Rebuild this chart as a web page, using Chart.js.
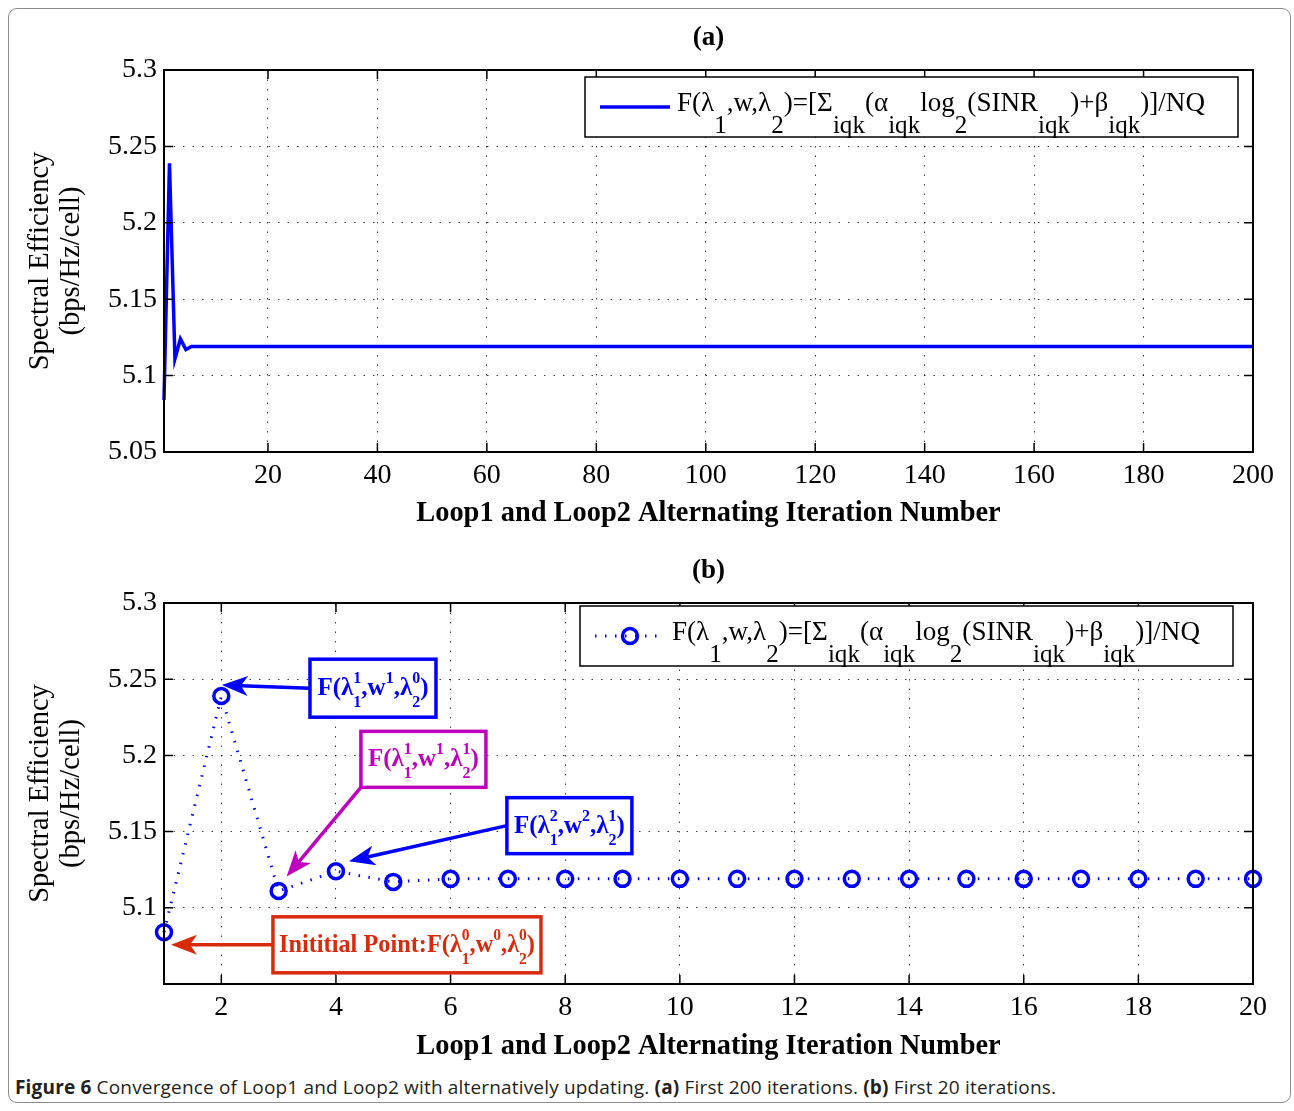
<!DOCTYPE html>
<html>
<head>
<meta charset="utf-8">
<script src="https://cdn.jsdelivr.net/npm/chart.js@4.4.1/dist/chart.umd.min.js"></script>
<style>
  html, body { margin: 0; padding: 0; background: #fff; }
  #page { position: relative; width: 1294px; height: 1111px; overflow: hidden; }
  #frame { position: absolute; left: 8px; top: 8px; width: 1283px; height: 1095px;
           border: 1px solid #8c8c8c; border-radius: 9px; box-sizing: border-box; }
  canvas { position: absolute; left: 0; }
  #chartA { top: 0; }
  #chartB { top: 540px; }
  #caption { position: absolute; left: 15px; top: 1074px; font-family: "Open Sans", "Noto Sans", sans-serif;
             font-size: 19px; color: #231f20; white-space: nowrap; letter-spacing: 0.17px; }
  #caption b { font-weight: 700; }
</style>
</head>
<body>
<div id="page">
  <div id="frame"></div>
  <canvas id="chartA" width="1294" height="540"></canvas>
  <canvas id="chartB" width="1294" height="530"></canvas>
  <div id="caption"><b>Figure 6</b> Convergence of Loop1 and Loop2 with alternatively updating. <b>(a)</b> First 200 iterations. <b>(b)</b> First 20 iterations.</div>
</div>
<script>
// ---- data ----
// (a) spectral efficiency for iterations 1..200
var seFirst200 = [
  5.084, 5.239, 5.111, 5.124, 5.117, 5.119, 5.119, 5.119, 5.119, 5.119, 5.119, 5.119, 5.119, 5.119, 5.119, 5.119, 5.119, 5.119, 5.119, 5.119,
  5.119, 5.119, 5.119, 5.119, 5.119, 5.119, 5.119, 5.119, 5.119, 5.119, 5.119, 5.119, 5.119, 5.119, 5.119, 5.119, 5.119, 5.119, 5.119, 5.119,
  5.119, 5.119, 5.119, 5.119, 5.119, 5.119, 5.119, 5.119, 5.119, 5.119, 5.119, 5.119, 5.119, 5.119, 5.119, 5.119, 5.119, 5.119, 5.119, 5.119,
  5.119, 5.119, 5.119, 5.119, 5.119, 5.119, 5.119, 5.119, 5.119, 5.119, 5.119, 5.119, 5.119, 5.119, 5.119, 5.119, 5.119, 5.119, 5.119, 5.119,
  5.119, 5.119, 5.119, 5.119, 5.119, 5.119, 5.119, 5.119, 5.119, 5.119, 5.119, 5.119, 5.119, 5.119, 5.119, 5.119, 5.119, 5.119, 5.119, 5.119,
  5.119, 5.119, 5.119, 5.119, 5.119, 5.119, 5.119, 5.119, 5.119, 5.119, 5.119, 5.119, 5.119, 5.119, 5.119, 5.119, 5.119, 5.119, 5.119, 5.119,
  5.119, 5.119, 5.119, 5.119, 5.119, 5.119, 5.119, 5.119, 5.119, 5.119, 5.119, 5.119, 5.119, 5.119, 5.119, 5.119, 5.119, 5.119, 5.119, 5.119,
  5.119, 5.119, 5.119, 5.119, 5.119, 5.119, 5.119, 5.119, 5.119, 5.119, 5.119, 5.119, 5.119, 5.119, 5.119, 5.119, 5.119, 5.119, 5.119, 5.119,
  5.119, 5.119, 5.119, 5.119, 5.119, 5.119, 5.119, 5.119, 5.119, 5.119, 5.119, 5.119, 5.119, 5.119, 5.119, 5.119, 5.119, 5.119, 5.119, 5.119,
  5.119, 5.119, 5.119, 5.119, 5.119, 5.119, 5.119, 5.119, 5.119, 5.119, 5.119, 5.119, 5.119, 5.119, 5.119, 5.119, 5.119, 5.119, 5.119, 5.119
];
// (b) spectral efficiency for iterations 1..20
var seFirst20 = [5.084, 5.239, 5.111, 5.124, 5.117, 5.119, 5.119, 5.119, 5.119, 5.119,
                 5.119, 5.119, 5.119, 5.119, 5.119, 5.119, 5.119, 5.119, 5.119, 5.119];

var xTicksA = [20, 40, 60, 80, 100, 120, 140, 160, 180, 200];
var yTicksA = [5.05, 5.1, 5.15, 5.2, 5.25, 5.3];
var xTicksB = [2, 4, 6, 8, 10, 12, 14, 16, 18, 20];
var yTicksB = [5.1, 5.15, 5.2, 5.25, 5.3];

var xTitle = 'Loop1 and Loop2 Alternating Iteration Number';
var yTitle = ['Spectral Efficiency', '(bps/Hz/cell)'];

// legend text: F(λ1,w,λ2)=[Σiqk(αiqk log2(SINRiqk)+βiqk)]/NQ
var legendParts = [
  {t: 'F(λ'}, {sub: '1'}, {t: ',w,λ'}, {sub: '2'}, {t: ')=[Σ'}, {sub: 'iqk'}, {t: '(α'}, {sub: 'iqk'},
  {t: 'log'}, {sub: '2'}, {t: '(SINR'}, {sub: 'iqk'}, {t: ')+β'}, {sub: 'iqk'}, {t: ')]/NQ'}
];

// annotations on (b): which point they mark and their label
var notes = [
  {point: 1, color: '#0000ff', parts: [{t: 'F(λ'}, {sub: '1', sup: '1'}, {t: ',w'}, {sup: '1'}, {t: ',λ'}, {sub: '2', sup: '0'}, {t: ')'}]},
  {point: 2, color: '#bf00bf', parts: [{t: 'F(λ'}, {sub: '1', sup: '1'}, {t: ',w'}, {sup: '1'}, {t: ',λ'}, {sub: '2', sup: '1'}, {t: ')'}]},
  {point: 3, color: '#0000ff', parts: [{t: 'F(λ'}, {sub: '1', sup: '2'}, {t: ',w'}, {sup: '2'}, {t: ',λ'}, {sub: '2', sup: '1'}, {t: ')'}]},
  {point: 0, color: '#d92a0c', parts: [{t: 'Inititial Point:F(λ'}, {sub: '1', sup: '0'}, {t: ',w'}, {sup: '0'}, {t: ',λ'}, {sub: '2', sup: '0'}, {t: ')'}]}
];
// where each annotation box sits (data coords of box centre), box size, arrow tail and tip offset from the point
var noteLayout = [
  {cx: 4.646, cy: 5.2441, w: 126, h: 58, tail: 'left',       tip: [0.5, -11]},
  {cx: 5.526, cy: 5.1974, w: 125, h: 56, tail: 'bottomleft', tip: [8, -14.5]},
  {cx: 8.073, cy: 5.1539, w: 125, h: 56, tail: 'left',       tip: [13, -10]},
  {cx: 5.239, cy: 5.0757, w: 268, h: 56, tail: 'left',       tip: [7, 12.5]}
];

var SERIF = '"Liberation Serif", "Times New Roman", serif';
var BLUE = '#0000ff';

function richWidth(ctx, parts, font, size, ssize) {
  var w = 0;
  parts.forEach(function(p){
    if (p.t !== undefined) { ctx.font = font + ' ' + size + 'px ' + SERIF; w += ctx.measureText(p.t).width; }
    else {
      ctx.font = font + ' ' + ssize + 'px ' + SERIF;
      w += Math.max(p.sub ? ctx.measureText(p.sub).width : 0, p.sup ? ctx.measureText(p.sup).width : 0);
    }
  });
  return w;
}

function drawRich(ctx, parts, x, y, o) {
  var sx = 1;
  if (o.width) sx = o.width / richWidth(ctx, parts, o.font, o.size, o.ssize);
  ctx.save();
  ctx.translate(x, y);
  ctx.scale(sx, 1);
  ctx.fillStyle = o.color;
  ctx.textBaseline = 'alphabetic';
  ctx.textAlign = 'left';
  var cx = 0;
  parts.forEach(function(p){
    if (p.t !== undefined) {
      ctx.font = o.font + ' ' + o.size + 'px ' + SERIF;
      ctx.fillText(p.t, cx, 0);
      cx += ctx.measureText(p.t).width;
    } else {
      ctx.font = o.font + ' ' + o.ssize + 'px ' + SERIF;
      var w = 0;
      if (p.sub) { ctx.fillText(p.sub, cx, o.subDy); w = Math.max(w, ctx.measureText(p.sub).width); }
      if (p.sup) { ctx.fillText(p.sup, cx, -o.supDy); w = Math.max(w, ctx.measureText(p.sup).width); }
      cx += w;
    }
  });
  ctx.restore();
}

function arrow(ctx, x0, y0, x1, y1, color) {
  var a = Math.atan2(y1 - y0, x1 - x0);
  var L = 26, H = 10, N = 7;
  ctx.save();
  ctx.strokeStyle = color; ctx.fillStyle = color; ctx.lineWidth = 3.5;
  ctx.beginPath();
  ctx.moveTo(x0, y0);
  ctx.lineTo(x1 - (L - N) * Math.cos(a), y1 - (L - N) * Math.sin(a));
  ctx.stroke();
  ctx.translate(x1, y1); ctx.rotate(a);
  ctx.beginPath();
  ctx.moveTo(0, 0); ctx.lineTo(-L, -H); ctx.lineTo(-L + N, 0); ctx.lineTo(-L, H);
  ctx.closePath(); ctx.fill();
  ctx.restore();
}

// axes box, inward ticks, legend and notes
var figurePlugin = {
  id: 'figure',
  afterDraw: function(chart, args, opts) {
    var ctx = chart.ctx, a = chart.chartArea;
    var xs = chart.scales.x, ys = chart.scales.y;
    ctx.save();
    ctx.strokeStyle = '#000'; ctx.lineWidth = 1.5; ctx.setLineDash([]);
    ctx.beginPath();
    xs.ticks.forEach(function(t){
      var px = xs.getPixelForValue(t.value);
      ctx.moveTo(px, a.bottom); ctx.lineTo(px, a.bottom - 9);
      ctx.moveTo(px, a.top); ctx.lineTo(px, a.top + 9);
    });
    ys.ticks.forEach(function(t){
      var py = ys.getPixelForValue(t.value);
      ctx.moveTo(a.left, py); ctx.lineTo(a.left + 9, py);
      ctx.moveTo(a.right, py); ctx.lineTo(a.right - 9, py);
    });
    ctx.stroke();
    ctx.lineWidth = 2;
    ctx.strokeRect(a.left, a.top, a.right - a.left, a.bottom - a.top);

    // legend
    var lg = opts.legend;
    ctx.fillStyle = '#fff';
    ctx.fillRect(lg.x, lg.y, lg.w, lg.h);
    ctx.lineWidth = 1.5; ctx.strokeStyle = '#000';
    ctx.strokeRect(lg.x, lg.y, lg.w, lg.h);
    var ds = chart.data.datasets[0];
    var ly = lg.y + lg.lineY;
    ctx.strokeStyle = ds.borderColor; ctx.lineWidth = ds.borderWidth;
    ctx.setLineDash(ds.borderDash || []);
    ctx.beginPath(); ctx.moveTo(lg.x + 15, ly); ctx.lineTo(lg.x + 85, ly); ctx.stroke();
    ctx.setLineDash([]);
    if (ds.pointRadius) {
      ctx.lineWidth = ds.pointBorderWidth;
      ctx.beginPath(); ctx.arc(lg.x + 50, ly, ds.pointRadius, 0, Math.PI * 2); ctx.stroke();
    }
    drawRich(ctx, legendParts, lg.x + 92, lg.y + 34, {font: 'normal', size: 27, ssize: 25, subDy: 22, supDy: 0, color: '#000', width: 528});

    // annotations
    if (opts.notes) {
      var meta = chart.getDatasetMeta(0);
      notes.forEach(function(n, i){
        var L = noteLayout[i];
        var pt = meta.data[n.point];
        var bx = xs.getPixelForValue(L.cx), by = ys.getPixelForValue(L.cy);
        var left = bx - L.w / 2, top = by - L.h / 2;
        var tx = left, ty = by;
        if (L.tail === 'bottomleft') { tx = left; ty = top + L.h; }
        arrow(ctx, tx, ty, pt.x + L.tip[0], pt.y + L.tip[1], n.color);
        ctx.fillStyle = '#fff';
        ctx.fillRect(left, top, L.w, L.h);
        ctx.lineWidth = 3.5; ctx.strokeStyle = n.color;
        ctx.strokeRect(left, top, L.w, L.h);
        var tw = richWidth(ctx, n.parts, 'bold', 25, 16);
        var fitW = Math.min(tw, L.w - 12);
        drawRich(ctx, n.parts, bx - fitW / 2, by + 7, {font: 'bold', size: 25, ssize: 16, subDy: 12, supDy: 12, color: n.color, width: fitW});
      });
    }
    ctx.restore();
  }
};

function tickSetter(list) {
  return function(scale){ scale.ticks = list.map(function(v){ return {value: v}; }); };
}

function makeOptions(c) {
  return {
    responsive: false,
    animation: false,
    layout: {padding: {left: 20, right: 41, top: 0, bottom: c.padBottom}},
    plugins: {
      legend: {display: false},
      tooltip: {enabled: false},
      title: {display: true, fullSize: false, text: c.title, color: '#000',
              font: {family: SERIF, size: 27, weight: 'bold', lineHeight: 1.2},
              padding: {top: c.titleTop, bottom: c.titleBottom}},
      figure: {legend: c.legend, notes: c.notes}
    },
    scales: {
      x: {
        type: 'linear', min: 1, max: c.xMax,
        afterBuildTicks: tickSetter(c.xTicks),
        afterFit: function(s){ s.height = 80; },
        grid: {color: 'rgba(0,0,0,0.75)', lineWidth: 1, drawTicks: false},
        border: {display: false, dash: [1.5, 8]},
        ticks: {color: '#000', font: {family: SERIF, size: 28}, padding: 7, maxRotation: 0, autoSkip: false,
                callback: function(v){ return String(v); }},
        title: {display: true, text: xTitle, color: '#000', font: {family: SERIF, size: 28.4, weight: 'bold', lineHeight: 1.2},
                padding: {top: 0, bottom: c.xTitlePad}}
      },
      y: {
        min: 5.05, max: 5.3,
        afterBuildTicks: tickSetter(c.yTicks),
        afterFit: function(s){ s.width = 144; },
        grid: {color: 'rgba(0,0,0,0.75)', lineWidth: 1, drawTicks: false},
        border: {display: false, dash: [1.5, 8]},
        ticks: {color: '#000', font: {family: SERIF, size: 28}, padding: 7, autoSkip: false,
                callback: function(v){ return String(v); }},
        title: {display: true, text: yTitle, color: '#000', font: {family: SERIF, size: 28.5, lineHeight: 1.09},
                padding: {top: 4.5, bottom: 0}}
      }
    }
  };
}

new Chart(document.getElementById('chartA'), {
  type: 'line',
  data: {
    datasets: [{
      data: seFirst200.map(function(v, i){ return {x: i + 1, y: v}; }),
      borderColor: BLUE, borderWidth: 3.5, pointRadius: 0, tension: 0, clip: false
    }]
  },
  options: makeOptions({
    title: '(a)', titleTop: 21.8, titleBottom: 15.8, padBottom: 8, xTitlePad: 1.2,
    xMax: 200, xTicks: xTicksA, yTicks: yTicksA,
    legend: {x: 585, y: 77, w: 653, h: 60, lineY: 30}, notes: false
  }),
  plugins: [figurePlugin]
});

new Chart(document.getElementById('chartB'), {
  type: 'line',
  data: {
    datasets: [{
      data: seFirst20.map(function(v, i){ return {x: i + 1, y: v}; }),
      borderColor: BLUE, borderWidth: 3, borderDash: [1.5, 8.5], tension: 0, clip: false,
      pointRadius: 7.5, pointBorderWidth: 3.5, pointBorderColor: BLUE,
      pointBackgroundColor: 'rgba(0,0,0,0)', pointStyle: 'circle'
    }]
  },
  options: makeOptions({
    title: '(b)', titleTop: 14.8, titleBottom: 15.8, padBottom: 6, xTitlePad: 0.2,
    xMax: 20, xTicks: xTicksB, yTicks: yTicksB,
    legend: {x: 580, y: 66, w: 653, h: 60, lineY: 30}, notes: true
  }),
  plugins: [figurePlugin]
});
</script>
</body>
</html>
